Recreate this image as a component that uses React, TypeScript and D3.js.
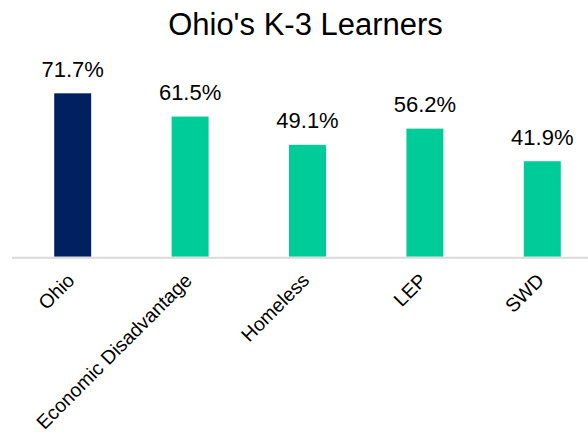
import * as d3 from 'd3'
import { useEffect, useRef } from 'react'

const categories = ['Ohio', 'Economic Disadvantage', 'Homeless', 'LEP', 'SWD']
const values = [71.7, 61.5, 49.1, 56.2, 41.9]
const barColors = ['#002060', '#00CC99', '#00CC99', '#00CC99', '#00CC99']
const title = "Ohio's K-3 Learners"

const App = () => {
  const ref = useRef<SVGSVGElement | null>(null)

  useEffect(() => {
    const width = 588
    const height = 433
    const baseline = 256.7

    const svg = d3.select(ref.current)
    svg.selectAll('*').remove()

    const data = categories.map((c, i) => ({ name: c, value: values[i], color: barColors[i] }))

    // band scale: the plot runs past the right edge of the picture
    const x = d3.scaleBand()
      .domain(categories)
      .range([14, 601])
      .paddingInner(0.685)
      .paddingOuter(0.3425)

    const y = d3.scaleLinear()
      .domain([0, 80])
      .range([baseline, baseline - 182.3])

    svg.append('rect')
      .attr('width', width)
      .attr('height', height)
      .attr('fill', '#ffffff')

    // title
    svg.append('text')
      .attr('x', 305.5)
      .attr('y', 35)
      .attr('text-anchor', 'middle')
      .style('font-family', '"Liberation Sans", Arial, sans-serif')
      .style('font-size', '31px')
      .attr('fill', '#000000')
      .text(title)

    // bars
    svg.selectAll('.bar')
      .data(data)
      .enter()
      .append('rect')
      .attr('class', 'bar')
      .attr('x', d => x(d.name)!)
      .attr('y', d => y(d.value))
      .attr('width', x.bandwidth())
      .attr('height', d => baseline - y(d.value))
      .attr('fill', d => d.color)

    // value labels
    svg.selectAll('.value-label')
      .data(data)
      .enter()
      .append('text')
      .attr('class', 'value-label')
      .attr('x', d => x(d.name)! + x.bandwidth() / 2)
      .attr('y', d => y(d.value) - 16.6)
      .attr('text-anchor', 'middle')
      .style('font-family', '"Liberation Sans", Arial, sans-serif')
      .style('font-size', '22px')
      .attr('fill', '#000000')
      .text(d => `${d.value.toFixed(1)}%`)

    // x axis line
    svg.append('line')
      .attr('x1', 12)
      .attr('x2', width)
      .attr('y1', baseline + 1)
      .attr('y2', baseline + 1)
      .attr('stroke', '#d9d9d9')
      .attr('stroke-width', 2)

    // category labels, rotated
    const axis = svg.append('g')
      .attr('transform', `translate(0,${baseline})`)
      .call(d3.axisBottom(x).tickSize(0).tickPadding(0))

    axis.select('.domain').remove()
    axis.selectAll('text')
      .attr('y', 0)
      .attr('dy', 0)
      .attr('transform', 'translate(3,25) rotate(-45)')
      .style('text-anchor', 'end')
      .style('font-family', '"Liberation Sans", Arial, sans-serif')
      .style('font-size', '19.5px')
      .attr('fill', '#000000')
  }, [])

  return (
    <div style={{ position: 'absolute', left: 0, top: 0 }}>
      <svg ref={ref} width={588} height={433} style={{ display: 'block', overflow: 'hidden' }}></svg>
    </div>
  )
}

export default App
